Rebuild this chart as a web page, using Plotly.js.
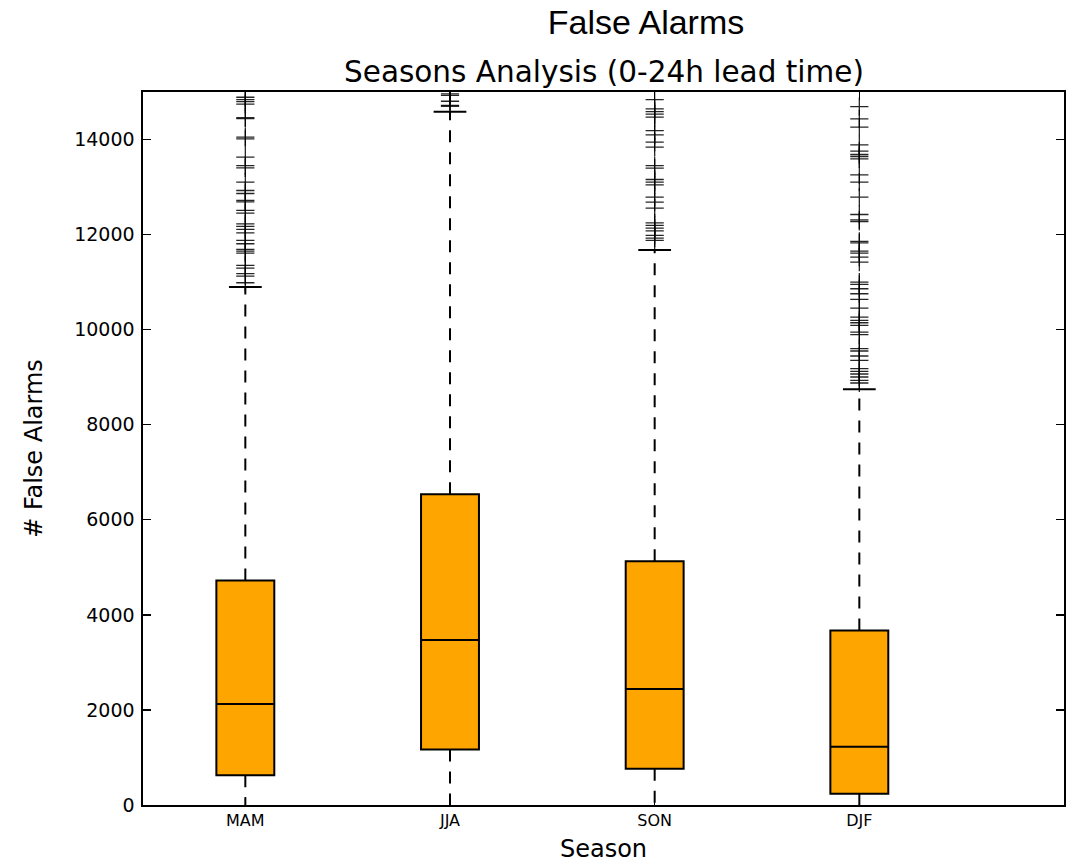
<!DOCTYPE html>
<html>
<head>
<meta charset="utf-8">
<script src="https://cdn.plot.ly/plotly-3.0.1.min.js"></script>
<style>html,body{margin:0;padding:0;background:#fff;}#chart{width:1071px;height:863px;}</style>
</head>
<body>
<div id="chart"></div>
<script>
// ---- data ----
const seasons = ["MAM", "JJA", "SON", "DJF"];
const q1 = [625, 1165, 763, 238];
const median = [2123, 3469, 2438, 1226];
const q3 = [4725, 6538, 5129, 3672];
const lowerWhisker = [0, 0, 0, 0];
const upperWhisker = [10895, 14585, 11675, 8745];
const yTicks = [0, 2000, 4000, 6000, 8000, 10000, 12000, 14000];

const outliersMAM = [14890, 14841, 14799, 14743, 14440, 14460, 14049, 14014, 13629, 13453, 13405,
  13103, 12928, 12865, 12690, 12720, 12508, 12452, 12227, 12171, 12108, 12038, 11877, 11807,
  11688, 11653, 11611, 11352, 11296, 11177, 11127, 10987];
const outliersJJA = [14960, 14930, 14805, 14720, 14700];
const outliersSON = [14841, 14645, 14589, 14533, 14470, 14189, 14098, 13944, 13839, 13453, 13398,
  13159, 13103, 13047, 12788, 12683, 12557, 12248, 12192, 12136, 12080, 11982, 11926, 11877];
const outliersDJF = [14694, 14435, 14259, 13888, 13755, 13685, 13643, 13594, 13257, 13103, 12788,
  12423, 12311, 12276, 11856, 11828, 11653, 11611, 11527, 11422, 11001, 10952, 10861, 10756,
  10637, 10455, 10265, 10195, 10146, 10090, 9950, 9894, 9600, 9551, 9446, 9355, 9180, 9123,
  9067, 9004, 8934, 8878];
const outlierSets = [outliersMAM, outliersJJA, outliersSON, outliersDJF];

// ---- styling ----
const positions = seasons.map((s, i) => i + 1);
const boxWidth = 0.283;
const capHalf = 0.08;
const fillColor = "#FFA500";

const traces = [];

// boxes (whiskers drawn separately so they can be dashed)
traces.push({
  type: "box",
  x: positions,
  q1: q1,
  median: median,
  q3: q3,
  lowerfence: q1,
  upperfence: q3,
  width: boxWidth,
  whiskerwidth: 0,
  fillcolor: fillColor,
  line: {color: "#000", width: 2},
  boxpoints: false,
  hoverinfo: "skip",
  showlegend: false
});

// dashed whiskers
const wx = [], wy = [];
positions.forEach((p, i) => {
  wx.push(p, p, null, p, p, null);
  wy.push(q3[i], upperWhisker[i], null, q1[i], lowerWhisker[i], null);
});
traces.push({
  type: "scatter", mode: "lines", x: wx, y: wy,
  line: {color: "#000", width: 2, dash: "12px,10px"},
  hoverinfo: "skip", showlegend: false
});

// upper whisker caps (lower caps sit on the axis line at 0)
const cx = [], cy = [];
positions.forEach((p, i) => {
  cx.push(p - capHalf, p + capHalf, null);
  cy.push(upperWhisker[i], upperWhisker[i], null);
});
traces.push({
  type: "scatter", mode: "lines", x: cx, y: cy,
  line: {color: "#000", width: 2},
  hoverinfo: "skip", showlegend: false
});

// outliers
outlierSets.forEach((vals, i) => {
  traces.push({
    type: "scatter", mode: "markers",
    x: vals.map(() => positions[i]),
    y: vals,
    marker: {symbol: "cross-thin", size: 13, color: "#000", line: {color: "rgba(0,0,0,0.85)", width: 1.3}},
    hoverinfo: "skip", showlegend: false
  });
});

const axisFont = {family: "DejaVu Sans, sans-serif", color: "#000"};

const layout = {
  width: 1071, height: 863,
  paper_bgcolor: "#fff", plot_bgcolor: "#fff",
  margin: {l: 143, r: 7, t: 92, b: 58, pad: 0},
  showlegend: false,
  title: {
    text: "False Alarms",
    font: {family: "Liberation Sans, Arial, sans-serif", size: 34, color: "#000"},
    x: 646 / 1071, xref: "container", xanchor: "center",
    y: 1 - 22 / 863, yref: "container", yanchor: "middle"
  },
  annotations: [{
    text: "Seasons Analysis (0-24h lead time)",
    xref: "paper", yref: "paper",
    x: 0.5, y: 1 + 20 / 713, xanchor: "center", yanchor: "middle",
    showarrow: false,
    font: {family: "DejaVu Sans, sans-serif", size: 29.5, color: "#000"}
  }],
  xaxis: {
    range: [0.5, 5],
    tickmode: "array", tickvals: positions, ticktext: seasons,
    ticks: "inside", ticklen: 8, tickwidth: 1.3, tickcolor: "#000",
    showline: true, linecolor: "#000", linewidth: 1.6, mirror: "ticks",
    showgrid: false, zeroline: false,
    tickfont: Object.assign({size: 16}, axisFont),
    title: {text: "Season", font: Object.assign({size: 24}, axisFont), standoff: 12},
    automargin: false, fixedrange: true
  },
  yaxis: {
    range: [0, 15000],
    tickmode: "array", tickvals: yTicks, ticktext: yTicks.map(String),
    ticks: "inside", ticklen: 8, tickwidth: 1.3, tickcolor: "#000",
    showline: true, linecolor: "#000", linewidth: 1.6, mirror: "ticks",
    showgrid: false, zeroline: false,
    ticklabelstandoff: 3,
    tickfont: Object.assign({size: 19}, axisFont),
    title: {text: "# False Alarms", font: Object.assign({size: 24}, axisFont), standoff: 25},
    automargin: false, fixedrange: true
  }
};

Plotly.newPlot("chart", traces, layout, {staticPlot: true, displayModeBar: false});
</script>
</body>
</html>
